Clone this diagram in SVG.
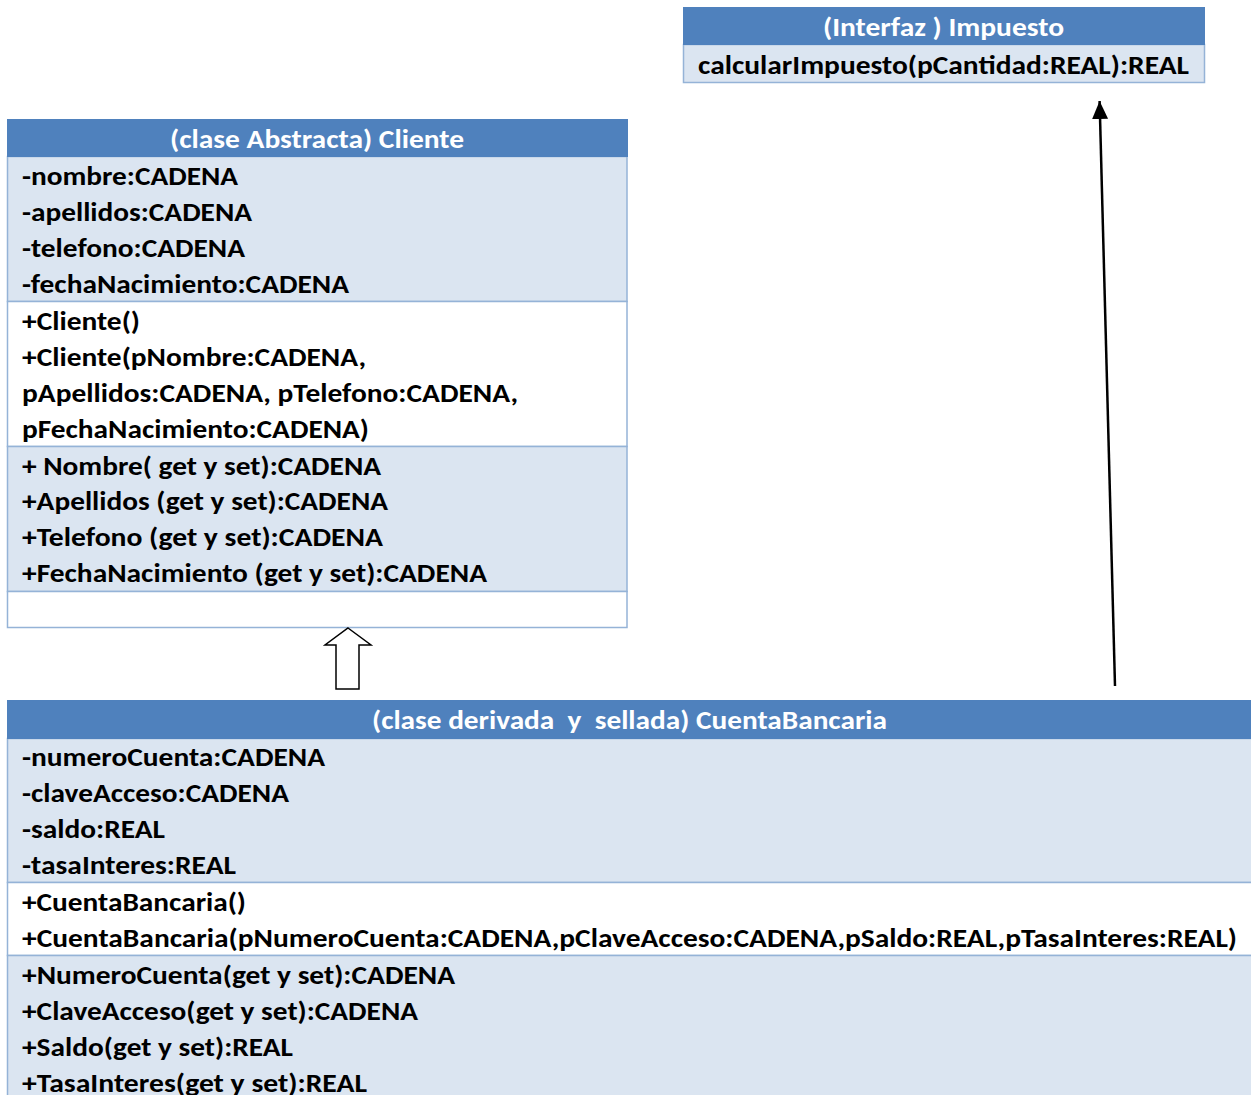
<svg xmlns="http://www.w3.org/2000/svg" width="1251" height="1095" viewBox="0 0 1251 1095">
<style>
  .hdr { fill: #4F81BD; }
  .lt { fill: #DBE5F1; stroke: #95B3D7; stroke-width: 1.5; }
  .wt { fill: #FFFFFF; stroke: #95B3D7; stroke-width: 1.5; }
  text { font-family: "Carlito", "Lato", "Liberation Sans", sans-serif; font-weight: bold; font-size: 26px; }
  .ht { fill: #FFFFFF; }
  .bt { fill: #000000; }
</style>
<defs>
  <marker id="filled" markerUnits="userSpaceOnUse" markerWidth="18" markerHeight="18" viewBox="0 0 18 16" refX="18" refY="8" orient="auto">
    <path d="M0,0 L18,8 L0,16 Z" fill="#000"/>
  </marker>
</defs>
<rect width="1251" height="1095" fill="#FFFFFF"/>

<g id="impuesto">
  <rect class="lt" x="683.5" y="44.5" width="521" height="38"/>
  <rect class="hdr" x="683" y="7" width="522" height="38"/>
  <text class="ht" x="823" y="36" textLength="241" lengthAdjust="spacingAndGlyphs">(Interfaz ) Impuesto</text>
  <text class="bt" x="698" y="74" textLength="491" lengthAdjust="spacingAndGlyphs">calcularImpuesto(pCantidad:REAL):REAL</text>
</g>

<g id="cliente">
  <rect class="lt" x="7.5" y="156.5" width="619.5" height="145"/>
  <rect class="wt" x="7.5" y="301.5" width="619.5" height="145"/>
  <rect class="lt" x="7.5" y="446.5" width="619.5" height="145"/>
  <rect class="wt" x="7.5" y="591.5" width="619.5" height="36"/>
  <rect class="hdr" x="7" y="119" width="621" height="38"/>
  <text class="ht" x="170" y="148" textLength="294" lengthAdjust="spacingAndGlyphs">(clase Abstracta) Cliente</text>
  <text class="bt" x="22" y="185" textLength="216" lengthAdjust="spacingAndGlyphs">-nombre:CADENA</text>
  <text class="bt" x="22" y="221" textLength="230" lengthAdjust="spacingAndGlyphs">-apellidos:CADENA</text>
  <text class="bt" x="22" y="257" textLength="223" lengthAdjust="spacingAndGlyphs">-telefono:CADENA</text>
  <text class="bt" x="22" y="293" textLength="327" lengthAdjust="spacingAndGlyphs">-fechaNacimiento:CADENA</text>
  <text class="bt" x="22" y="330" textLength="118" lengthAdjust="spacingAndGlyphs">+Cliente()</text>
  <text class="bt" x="22" y="366" textLength="344" lengthAdjust="spacingAndGlyphs">+Cliente(pNombre:CADENA,</text>
  <text class="bt" x="22" y="402" textLength="496" lengthAdjust="spacingAndGlyphs">pApellidos:CADENA, pTelefono:CADENA,</text>
  <text class="bt" x="22" y="438" textLength="347" lengthAdjust="spacingAndGlyphs">pFechaNacimiento:CADENA)</text>
  <text class="bt" x="22" y="475" textLength="359" lengthAdjust="spacingAndGlyphs">+ Nombre( get y set):CADENA</text>
  <text class="bt" x="22" y="510" textLength="366" lengthAdjust="spacingAndGlyphs">+Apellidos (get y set):CADENA</text>
  <text class="bt" x="22" y="546" textLength="361" lengthAdjust="spacingAndGlyphs">+Telefono (get y set):CADENA</text>
  <text class="bt" x="22" y="582" textLength="465" lengthAdjust="spacingAndGlyphs">+FechaNacimiento (get y set):CADENA</text>
</g>

<g id="cuentabancaria">
  <rect class="lt" x="7.5" y="738.5" width="1250" height="144"/>
  <rect class="wt" x="7.5" y="882.5" width="1250" height="73"/>
  <rect class="lt" x="7.5" y="955.5" width="1250" height="150"/>
  <rect class="hdr" x="7" y="700" width="1250" height="39"/>
  <text class="ht" x="372" y="729" textLength="515" lengthAdjust="spacingAndGlyphs" xml:space="preserve">(clase derivada  y  sellada) CuentaBancaria</text>
  <text class="bt" x="22" y="766" textLength="303" lengthAdjust="spacingAndGlyphs">-numeroCuenta:CADENA</text>
  <text class="bt" x="22" y="802" textLength="267" lengthAdjust="spacingAndGlyphs">-claveAcceso:CADENA</text>
  <text class="bt" x="22" y="838" textLength="143" lengthAdjust="spacingAndGlyphs">-saldo:REAL</text>
  <text class="bt" x="22" y="874" textLength="214" lengthAdjust="spacingAndGlyphs">-tasaInteres:REAL</text>
  <text class="bt" x="22" y="911" textLength="224" lengthAdjust="spacingAndGlyphs">+CuentaBancaria()</text>
  <text class="bt" x="22" y="947" textLength="1215" lengthAdjust="spacingAndGlyphs">+CuentaBancaria(pNumeroCuenta:CADENA,pClaveAcceso:CADENA,pSaldo:REAL,pTasaInteres:REAL)</text>
  <text class="bt" x="22" y="984" textLength="433" lengthAdjust="spacingAndGlyphs">+NumeroCuenta(get y set):CADENA</text>
  <text class="bt" x="22" y="1020" textLength="396" lengthAdjust="spacingAndGlyphs">+ClaveAcceso(get y set):CADENA</text>
  <text class="bt" x="22" y="1056" textLength="271" lengthAdjust="spacingAndGlyphs">+Saldo(get y set):REAL</text>
  <text class="bt" x="22" y="1092" textLength="345" lengthAdjust="spacingAndGlyphs">+TasaInteres(get y set):REAL</text>
</g>

<g id="connectors">
  <polygon points="348,628 371,645 359,645 359,689 336,689 336,645 325,645" fill="#FFFFFF" stroke="#000000" stroke-width="1.5"/>
  <line x1="1115" y1="686" x2="1099.6" y2="101" stroke="#000000" stroke-width="2.5" marker-end="url(#filled)"/>
</g>
</svg>
